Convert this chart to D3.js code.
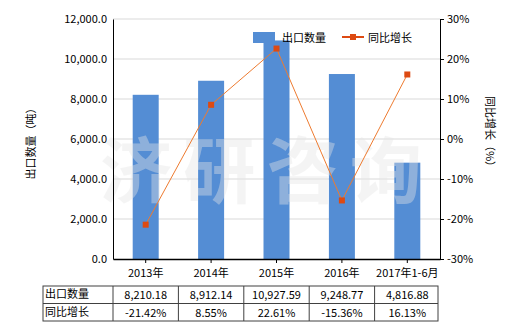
<!DOCTYPE html>
<html>
<head>
<meta charset="utf-8">
<script src="https://cdn.jsdelivr.net/npm/d3@7"></script>
<style>
  body { margin: 0; background: #fff; }
  text { font-family: "Noto Sans CJK SC", "Noto Sans", sans-serif; font-size: 11px; fill: #000; }
</style>
</head>
<body>
<div id="chart"></div>
<script>
var years = ["2013年", "2014年", "2015年", "2016年", "2017年1-6月"];
var qty = [8210.18, 8912.14, 10927.59, 9248.77, 4816.88];
var growth = [-21.42, 8.55, 22.61, -15.36, 16.13];
var qtyLabels = ["8,210.18", "8,912.14", "10,927.59", "9,248.77", "4,816.88"];
var growthLabels = ["-21.42%", "8.55%", "22.61%", "-15.36%", "16.13%"];
var leftTicks = [0, 2000, 4000, 6000, 8000, 10000, 12000];
var rightTicks = [-30, -20, -10, 0, 10, 20, 30];

var width = 520, height = 330,
    pLeft = 113, pRight = 440, pTop = 19, pBottom = 259;

var svg = d3.select("#chart").append("svg")
  .attr("width", width)
  .attr("height", height);

var x = d3.scaleBand().domain(years).range([pLeft, pRight]);
var yL = d3.scaleLinear().domain([0, 12000]).range([pBottom, pTop]);
var yR = d3.scaleLinear().domain([-30, 30]).range([pBottom, pTop]);

// grid
svg.selectAll("line.grid")
  .data(leftTicks.slice(1))
  .enter().append("line")
  .attr("x1", pLeft).attr("x2", pRight)
  .attr("y1", function(d){ return yL(d); })
  .attr("y2", function(d){ return yL(d); })
  .style("stroke", "#d9d9d9");

// bars
svg.selectAll("rect.bar")
  .data(qty)
  .enter().append("rect")
  .attr("x", function(d, i){ return x(years[i]) + x.bandwidth()/2 - 13; })
  .attr("width", 26)
  .attr("y", function(d){ return yL(d); })
  .attr("height", function(d){ return pBottom - yL(d); })
  .attr("fill", "#548dd4");

// watermark
svg.append("text")
  .attr("x", 100).attr("y", 197)
  .attr("textLength", 322)
  .style("font-size", "72px")
  .style("font-weight", "bold")
  .style("fill", "#e6e6e6")
  .style("opacity", 0.4)
  .text("济研咨询");

// axes
var gL = svg.append("g").attr("transform", "translate(" + pLeft + ",0)")
  .call(d3.axisLeft(yL).tickValues(leftTicks).tickSize(0).tickPadding(6)
    .tickFormat(function(d){ return d3.format(",.1f")(d); }));
gL.select(".domain").attr("stroke", "#000");

var gR = svg.append("g").attr("transform", "translate(" + pRight + ",0)")
  .call(d3.axisRight(yR).tickValues(rightTicks).tickSize(4).tickPadding(3)
    .tickFormat(function(d){ return d + "%"; }));
gR.select(".domain").attr("stroke", "#000");

var gB = svg.append("g").attr("transform", "translate(0," + pBottom + ")")
  .call(d3.axisBottom(x).tickSize(4).tickPadding(6).tickSizeOuter(0));
gB.select(".domain").attr("stroke", "#000").attr("stroke-width", 1.5);
svg.selectAll(".tick text").style("font-family", "\"Noto Sans CJK SC\", sans-serif").style("font-size", "11px").attr("fill", "#000");
svg.selectAll(".tick line").attr("stroke", "#000");

// line
var line = d3.line()
  .x(function(d, i){ return x(years[i]) + x.bandwidth()/2; })
  .y(function(d){ return yR(d); });
svg.append("path")
  .datum(growth)
  .attr("d", line)
  .attr("fill", "none")
  .attr("stroke", "#ee7b30")
  .attr("stroke-width", 1);
svg.selectAll("rect.pt")
  .data(growth)
  .enter().append("rect")
  .attr("x", function(d, i){ return x(years[i]) + x.bandwidth()/2 - 3; })
  .attr("y", function(d){ return yR(d) - 3; })
  .attr("width", 6).attr("height", 6)
  .attr("fill", "#dd4a12");

// axis titles
svg.append("text")
  .attr("transform", "translate(35,141) rotate(-90)")
  .attr("text-anchor", "middle")
  .text("出口数量（吨）");
svg.append("text")
  .attr("transform", "translate(486,134) rotate(90)")
  .attr("text-anchor", "middle")
  .text("同比增长（%）");

// legend
svg.append("rect").attr("x", 253).attr("y", 32).attr("width", 22).attr("height", 11).attr("fill", "#548dd4");
svg.append("text").attr("x", 282).attr("y", 42).text("出口数量");
svg.append("line").attr("x1", 342).attr("x2", 364).attr("y1", 37).attr("y2", 37)
  .attr("stroke", "#dd4a12").attr("stroke-width", 2);
svg.append("rect").attr("x", 350).attr("y", 34).attr("width", 6).attr("height", 6).attr("fill", "#dd4a12");
svg.append("text").attr("x", 368).attr("y", 42).text("同比增长");

// table
var tTop = 286, rowH = 17.5, tLeft = 43;
var rows = [["出口数量", qtyLabels], ["同比增长", growthLabels]];
var tbl = svg.append("g");
tbl.append("rect")
  .attr("x", tLeft).attr("y", tTop)
  .attr("width", pRight - 2 - tLeft).attr("height", rowH * 2)
  .attr("fill", "none").attr("stroke", "#404040");
tbl.append("line")
  .attr("x1", tLeft).attr("x2", pRight - 2)
  .attr("y1", tTop + rowH).attr("y2", tTop + rowH)
  .attr("stroke", "#404040");
tbl.selectAll("line.col")
  .data(years)
  .enter().append("line")
  .attr("x1", function(d){ return x(d); })
  .attr("x2", function(d){ return x(d); })
  .attr("y1", tTop).attr("y2", tTop + rowH * 2)
  .attr("stroke", "#404040");
rows.forEach(function(r, ri){
  tbl.append("text")
    .attr("x", tLeft + 2).attr("y", tTop + rowH * ri + 12)
    .text(r[0]);
  tbl.selectAll("text.v" + ri)
    .data(r[1])
    .enter().append("text")
    .attr("x", function(d, i){ return x(years[i]) + x.bandwidth()/2; })
    .attr("y", tTop + rowH * ri + 13)
    .attr("text-anchor", "middle")
    .text(function(d){ return d; });
});
</script>
</body>
</html>
